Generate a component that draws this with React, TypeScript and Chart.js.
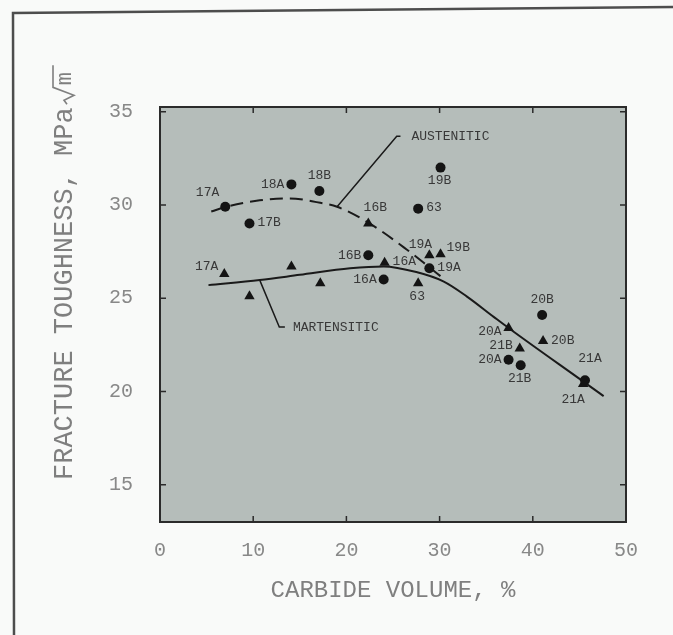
import { useEffect, useRef } from "react";
import { Chart, registerables } from "chart.js";

Chart.register(...registerables);

// ---------------- data ----------------
const xTicks = [0, 10, 20, 30, 40, 50];
const yTicks = [15, 20, 25, 30, 35];

const austeniticX = [7.0, 9.6, 14.1, 17.1, 22.35, 24.0, 30.1, 27.7, 28.9, 41.0, 37.4, 38.7, 45.6];
const austeniticY = [29.9, 29.0, 31.1, 30.75, 27.3, 26.0, 32.0, 29.8, 26.6, 24.1, 21.7, 21.4, 20.6];
const austeniticLabels = ["17A", "17B", "18A", "18B", "16B", "16A", "19B", "63", "19A", "20B", "20A", "21B", "21A"];

const martensiticX = [6.9, 9.6, 14.1, 17.2, 22.35, 24.1, 28.9, 30.1, 27.7, 37.4, 41.1, 38.6, 45.4];
const martensiticY = [26.3, 25.1, 26.7, 25.8, 29.0, 26.9, 27.3, 27.35, 25.8, 23.4, 22.7, 22.3, 20.4];
const martensiticLabels = ["17A", "", "", "", "16B", "16A", "19A", "19B", "63", "20A", "20B", "21B", "21A"];

const austeniticCurveX = [5.5, 7.5, 10.7, 13.9, 16.8, 19.0, 22.35, 26.5, 28.8, 30.3];
const austeniticCurveY = [29.65, 29.95, 30.25, 30.35, 30.15, 29.9, 29.05, 27.6, 26.7, 26.1];

const martensiticCurveX = [5.2, 10.7, 15.0, 20.4, 24.0, 27.5, 30.4, 32.9, 35.8, 37.4, 45.5, 47.6];
const martensiticCurveY = [25.7, 25.97, 26.25, 26.6, 26.7, 26.4, 25.9, 25.1, 24.0, 23.4, 20.5, 19.75];

const austeniticLeaderX = [19.0, 25.4, 25.8];
const austeniticLeaderY = [29.9, 33.68, 33.68];
const martensiticLeaderX = [10.7, 12.8, 13.4];
const martensiticLeaderY = [25.97, 23.45, 23.45];

const austeniticName = "AUSTENITIC";
const martensiticName = "MARTENSITIC";
const xTitle = "CARBIDE VOLUME, %";
const yTitle = "FRACTURE TOUGHNESS, MPa";
const yTitleRoot = "m";

// ---------------- style ----------------
const MONO = '"Liberation Mono", "DejaVu Sans Mono", monospace';
const PAGE_BG = "#f9faf9";
const PLOT_BG = "#b5bdba";
const INK = "#1a1a1a";
const TICK_COLOR = "#888888";
const TITLE_COLOR = "#7f7f7f";
const LABEL_COLOR = "#383838";

// label placements (style only): align, dx, dy in px
const PLACE: Record<string, [CanvasTextAlign, number, number]> = {
  L: ["right", -7, 0],
  R: ["left", 8, -1],
  T: ["center", 0, -15],
  TT: ["center", 5, -22],
  TR: ["center", 7, -16],
  TLc: ["center", -9, -11],
  B: ["center", -1, 13],
  BL: ["center", -10, 16],
  TL: ["right", -6, -14],
  UL: ["right", -6, -7],
  UR: ["left", 6, -7],
  LD: ["right", -7, 4],
  LU: ["right", -7, -3],
};
const austeniticPlace = ["TL", "R", "L", "T", "L", "L", "B", "R", "R", "T", "L", "B", "TT"];
const martensiticPlace = ["UL", "", "", "", "TR", "R", "TLc", "UR", "B", "LD", "R", "LU", "BL"];

const pts = (xs: number[], ys: number[]) => xs.map((x, i) => ({ x, y: ys[i] }));

const figurePlugin = {
  id: "figure",
  beforeDraw(chart: any) {
    const { ctx, chartArea: a, width, height } = chart;
    ctx.save();
    ctx.fillStyle = PAGE_BG;
    ctx.fillRect(0, 0, width, height);
    ctx.strokeStyle = "#4d4d4d";
    ctx.lineWidth = 2.5;
    ctx.beginPath();
    ctx.moveTo(14, height);
    ctx.lineTo(13, 13);
    ctx.lineTo(width, 7);
    ctx.stroke();
    ctx.fillStyle = PLOT_BG;
    ctx.fillRect(a.left, a.top, a.right - a.left, a.bottom - a.top);
    ctx.restore();
  },
  beforeDatasetsDraw(chart: any) {
    const { ctx, chartArea: a, scales } = chart;
    const xs = scales.x, ys = scales.y;
    ctx.save();
    ctx.strokeStyle = "#2a2a2a";
    ctx.lineWidth = 1.5;
    ctx.beginPath();
    xTicks.forEach((v) => {
      if (v <= xs.min || v >= xs.max) return;
      const px = xs.getPixelForValue(v);
      ctx.moveTo(px, a.bottom);
      ctx.lineTo(px, a.bottom - 6);
      ctx.moveTo(px, a.top);
      ctx.lineTo(px, a.top + 6);
    });
    yTicks.forEach((v) => {
      if (v <= ys.min || v >= ys.max) return;
      const py = ys.getPixelForValue(v);
      ctx.moveTo(a.left, py);
      ctx.lineTo(a.left + 6, py);
      ctx.moveTo(a.right, py);
      ctx.lineTo(a.right - 6, py);
    });
    ctx.stroke();
    ctx.lineWidth = 2;
    ctx.strokeStyle = "#2b2b2b";
    ctx.strokeRect(a.left, a.top, a.right - a.left, a.bottom - a.top);
    ctx.restore();
  },
  afterDatasetsDraw(chart: any) {
    const { ctx, chartArea: a, scales } = chart;
    const xs = scales.x, ys = scales.y;
    ctx.save();
    ctx.font = `13px ${MONO}`;
    ctx.fillStyle = LABEL_COLOR;
    ctx.textBaseline = "middle";
    const drawLabels = (X: number[], Y: number[], L: string[], P: string[]) => {
      L.forEach((t, i) => {
        if (!t) return;
        const [al, dx, dy] = PLACE[P[i]] || PLACE.R;
        ctx.textAlign = al;
        ctx.fillText(t, xs.getPixelForValue(X[i]) + dx, ys.getPixelForValue(Y[i]) + dy);
      });
    };
    drawLabels(austeniticX, austeniticY, austeniticLabels, austeniticPlace);
    drawLabels(martensiticX, martensiticY, martensiticLabels, martensiticPlace);

    ctx.textAlign = "left";
    const endA = austeniticLeaderX.length - 1;
    ctx.fillText(austeniticName, xs.getPixelForValue(austeniticLeaderX[endA]) + 11, ys.getPixelForValue(austeniticLeaderY[endA]));
    const endM = martensiticLeaderX.length - 1;
    ctx.fillText(martensiticName, xs.getPixelForValue(martensiticLeaderX[endM]) + 8, ys.getPixelForValue(martensiticLeaderY[endM]));

    // y-axis title with root symbol
    ctx.translate(a.left - 95, a.bottom - 42);
    ctx.rotate(-Math.PI / 2);
    ctx.font = `27px ${MONO}`;
    ctx.fillStyle = TITLE_COLOR;
    ctx.textAlign = "left";
    ctx.fillText(yTitle, 0, 0);
    const w = ctx.measureText(yTitle).width;
    ctx.strokeStyle = TITLE_COLOR;
    ctx.lineWidth = 1.6;
    ctx.beginPath();
    ctx.moveTo(w + 3, 2);
    ctx.lineTo(w + 7, -1);
    ctx.lineTo(w + 12, 9);
    ctx.lineTo(w + 20, -12);
    ctx.lineTo(w + 42, -12);
    ctx.stroke();
    ctx.font = `22px ${MONO}`;
    ctx.fillText(yTitleRoot, w + 22, 0);
    ctx.restore();
  },
};

export default function App() {
  const ref = useRef<HTMLCanvasElement | null>(null);
  useEffect(() => {
    document.body.style.margin = "0";
    const canvas = ref.current;
    if (!canvas) return;
    const lineBase = {
      showLine: true,
      fill: false,
      pointRadius: 0,
      borderColor: INK,
      backgroundColor: INK,
    };
    const chart = new Chart(canvas, {
      type: "scatter",
      data: {
        datasets: [
          {
            label: "Austenitic",
            data: pts(austeniticX, austeniticY),
            pointStyle: "circle",
            pointRadius: 5,
            pointBorderWidth: 0,
            backgroundColor: "#141414",
            borderColor: "#141414",
          },
          {
            label: "Martensitic",
            data: pts(martensiticX, martensiticY),
            pointStyle: "triangle",
            pointRadius: 6,
            pointBorderWidth: 0,
            backgroundColor: "#141414",
            borderColor: "#141414",
          },
          {
            ...lineBase,
            label: "Austenitic trend",
            data: pts(austeniticCurveX, austeniticCurveY),
            borderWidth: 2,
            borderDash: [13, 7],
            cubicInterpolationMode: "monotone",
          },
          {
            ...lineBase,
            label: "Martensitic trend",
            data: pts(martensiticCurveX, martensiticCurveY),
            borderWidth: 2,
            cubicInterpolationMode: "monotone",
          },
          {
            ...lineBase,
            label: "Austenitic leader",
            data: pts(austeniticLeaderX, austeniticLeaderY),
            borderWidth: 1.5,
            tension: 0,
          },
          {
            ...lineBase,
            label: "Martensitic leader",
            data: pts(martensiticLeaderX, martensiticLeaderY),
            borderWidth: 1.5,
            tension: 0,
          },
        ] as any,
      },
      options: {
        responsive: false,
        animation: false,
        layout: { padding: { left: 0, top: 107, right: 47, bottom: 0 } },
        plugins: { legend: { display: false }, tooltip: { enabled: false } },
        scales: {
          x: {
            type: "linear",
            min: 0,
            max: 50,
            afterBuildTicks: (s: any) => {
              s.ticks = xTicks.map((v) => ({ value: v }));
            },
            afterFit: (s: any) => {
              s.height = 113;
            },
            grid: { display: false, drawTicks: false },
            border: { display: false },
            ticks: { padding: 17, color: TICK_COLOR, font: { family: MONO, size: 20 } },
            title: {
              display: true,
              text: xTitle,
              color: TITLE_COLOR,
              font: { family: MONO, size: 24 },
              padding: { top: 0, bottom: 30 },
            },
          },
          y: {
            type: "linear",
            min: 13,
            max: 35.25,
            afterBuildTicks: (s: any) => {
              s.ticks = yTicks.map((v) => ({ value: v }));
            },
            afterFit: (s: any) => {
              s.width = 160;
            },
            grid: { display: false, drawTicks: false },
            border: { display: false },
            ticks: { padding: 27, color: TICK_COLOR, font: { family: MONO, size: 20 } },
          },
        },
      } as any,
      plugins: [figurePlugin],
    });
    return () => chart.destroy();
  }, []);
  return (
    <div style={{ width: 673, height: 635 }}>
      <canvas ref={ref} width={673} height={635} style={{ display: "block" }} />
    </div>
  );
}
